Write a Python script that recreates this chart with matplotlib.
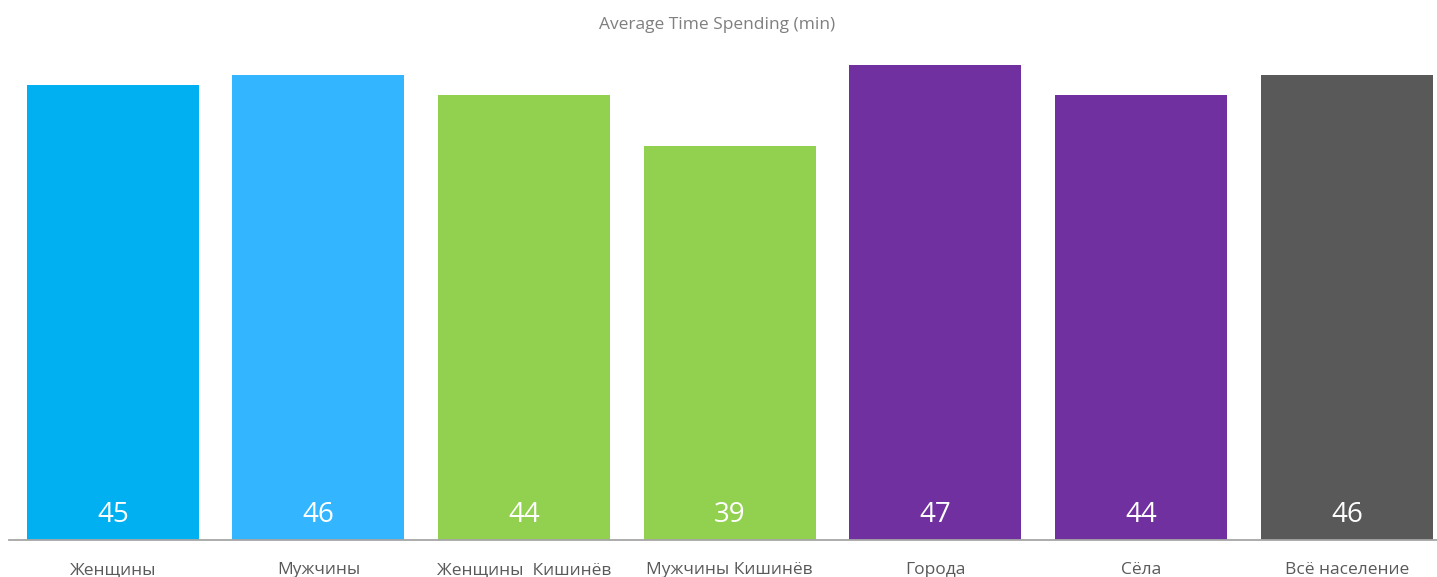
import matplotlib
matplotlib.use("Agg")
import matplotlib.pyplot as plt

categories = ["Женщины", "Мужчины", "Женщины  Кишинёв", "Мужчины Кишинёв", "Города", "Сёла", "Всё население"]
values = [45, 46, 44, 39, 47, 44, 46]
colors = ["#00B0F0", "#33B6FF", "#92D050", "#92D050", "#7030A0", "#7030A0", "#595959"]

plt.rcParams['font.family'] = ['Open Sans', 'DejaVu Sans']

W, H = 1437, 577
fig = plt.figure(figsize=(W / 100, H / 100), dpi=100)
left, right, top, bottom = 9, 1437, 40, 540
step = 205.67
c0 = 112.8
ax = fig.add_axes([left / W, 1 - bottom / H, (right - left) / W, (bottom - top) / H])

x = list(range(len(categories)))
ax.bar(x, values, width=172 / step, color=colors)
ax.set_xlim(-(c0 - left) / step, (right - c0) / step)
ax.set_ylim(0, (bottom - top) / 10.11)

for xi, v in zip(x, values):
    ax.text(xi, 2.5, str(v), ha="center", va="center", color="white", fontsize=20)

ax.set_xticks(x)
ax.set_xticklabels(categories, fontsize=12.5, color="#595959")
ax.tick_params(axis="x", length=0, pad=16)
ax.set_yticks([])
for s in ["top", "left", "right"]:
    ax.spines[s].set_visible(False)
ax.spines["bottom"].set_color("#A6A6A6")
ax.spines["bottom"].set_linewidth(1.3)

fig.text(717 / W, 1 - 25 / H, "Average Time Spending (min)", ha="center", va="center",
         fontsize=12.5, color="#7F7F7F")

fig.savefig("out.png", dpi=100)
